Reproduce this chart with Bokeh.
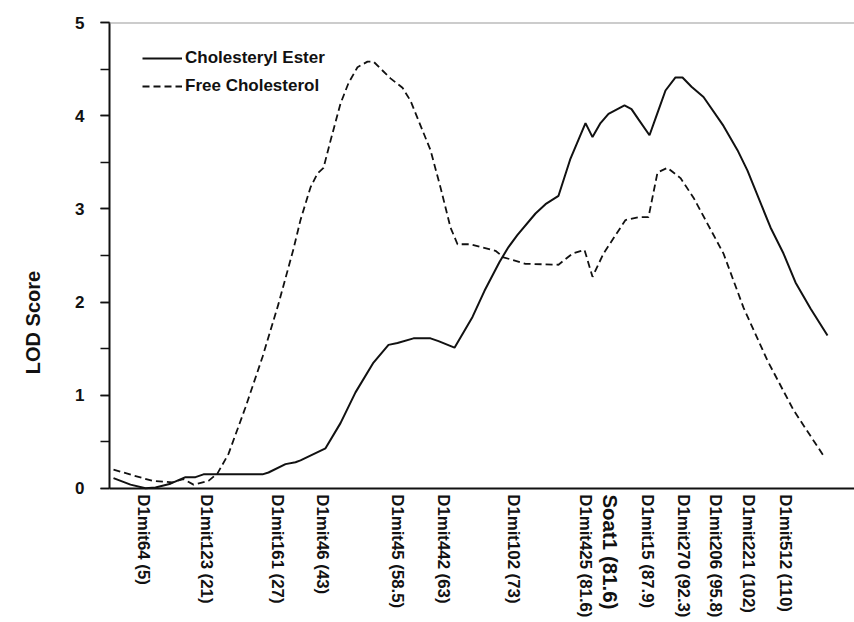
import math
from bokeh.plotting import figure
from bokeh.models import (Range1d, FixedTicker, SingleIntervalTicker, Legend, LegendItem,
                          Label, Span)
from bokeh.embed import file_html
from bokeh.resources import INLINE

# ---- data (x = chart position along chromosome 1 panel) ----
ce_x = [4, 21, 36, 46, 61, 76, 86, 94, 153, 159, 176, 186, 191, 216, 231, 246, 264, 279,
        288, 304, 321, 329, 345, 363, 375, 390, 399, 408, 426, 436, 449, 461, 476, 483,
        491, 499, 515, 522, 529, 540, 548, 556, 566, 573, 582, 594, 614, 628, 638, 661,
        674, 686, 701, 718]
ce_y = [0.11, 0.04, 0.00, 0.01, 0.05, 0.12, 0.12, 0.15, 0.15, 0.17, 0.26, 0.28, 0.30,
        0.43, 0.70, 1.03, 1.35, 1.54, 1.56, 1.61, 1.61, 1.58, 1.51, 1.84, 2.12, 2.43,
        2.59, 2.72, 2.95, 3.05, 3.14, 3.54, 3.92, 3.77, 3.92, 4.02, 4.11, 4.07, 3.96,
        3.79, 4.03, 4.27, 4.41, 4.41, 4.31, 4.20, 3.89, 3.63, 3.41, 2.80, 2.52, 2.21,
        1.93, 1.64]

fc_x = [4, 43, 63, 74, 84, 99, 108, 119, 136, 153, 169, 184, 191, 201, 208, 214, 221,
        231, 239, 248, 258, 264, 281, 293, 301, 321, 331, 341, 348, 361, 371, 386, 394,
        416, 449, 463, 475, 483, 494, 516, 529, 539, 548, 558, 571, 584, 614, 634, 658,
        684, 714]
fc_y = [0.20, 0.08, 0.065, 0.10, 0.04, 0.08, 0.16, 0.37, 0.87, 1.41, 1.98, 2.57, 2.88,
        3.23, 3.38, 3.44, 3.73, 4.13, 4.35, 4.52, 4.58, 4.58, 4.40, 4.30, 4.16, 3.63,
        3.23, 2.80, 2.62, 2.62, 2.59, 2.55, 2.48, 2.41, 2.40, 2.52, 2.56, 2.27, 2.52,
        2.88, 2.91, 2.91, 3.39, 3.44, 3.33, 3.12, 2.52, 1.94, 1.37, 0.84, 0.35]

marker_pos = [34, 97, 168, 213, 288, 334, 404, 476, 501, 538, 574, 606, 639, 676]
marker_labels = ["D1mit64 (5)", "D1mit123 (21)", "D1mit161 (27)", "D1mit46 (43)",
                 "D1mit45 (58.5)", "D1mit442 (63)", "D1mit102 (73)", "D1mit425 (81.6)",
                 "Soat1 (81.6)", "D1mit15 (87.9)", "D1mit270 (92.3)", "D1mit206 (95.8)",
                 "D1mit221 (102)", "D1mit512 (110)"]
highlight = "Soat1 (81.6)"

series_names = ["Cholesteryl Ester", "Free Cholesterol"]

FONT = "Liberation Sans"

# the frame reaches the bottom of the page; the x axis sits at LOD 0 inside it
p = figure(width=854, height=622, output_backend="svg", toolbar_location=None,
           x_range=Range1d(0, 745), y_range=Range1d(-1.44, 5),
           min_border_left=109, min_border_right=0, min_border_top=22,
           min_border_bottom=0)
p.background_fill_color = "white"
p.border_fill_color = "white"
p.outline_line_color = None
p.grid.visible = False

r_ce = p.line(ce_x, ce_y, line_color="#111111", line_width=2)
r_fc = p.line(fc_x, fc_y, line_color="#111111", line_width=1.8, line_dash="7 4")

# top border
p.add_layout(Span(location=5, dimension="width", line_color="#999999", line_width=2))

# y axis
ya = p.yaxis[0]
ya.bounds = (0, 5)
ya.ticker = SingleIntervalTicker(interval=1, num_minor_ticks=2)
ya.axis_line_color = "#111111"
ya.axis_line_width = 2
ya.major_tick_in = 0
ya.major_tick_out = 9
ya.minor_tick_in = 0
ya.minor_tick_out = 9
ya.major_tick_line_width = 1.5
ya.minor_tick_line_width = 1.5
ya.major_tick_line_color = "#111111"
ya.minor_tick_line_color = "#111111"
ya.major_label_text_font = FONT
ya.major_label_text_font_style = "bold"
ya.major_label_text_font_size = "17px"
ya.major_label_text_color = "#111111"
ya.major_label_standoff = 16
ya.axis_label = "LOD Score"
ya.axis_label_text_font = FONT
ya.axis_label_text_font_style = "bold"
ya.axis_label_text_font_size = "20px"
ya.axis_label_text_color = "#111111"
ya.axis_label_standoff = 28

# x axis with marker labels, fixed at LOD = 0
xa = p.xaxis[0]
xa.fixed_location = 0
xa.ticker = FixedTicker(ticks=marker_pos)
xa.major_label_overrides = {pos: ("" if lab == highlight else lab)
                            for pos, lab in zip(marker_pos, marker_labels)}
xa.major_label_orientation = -math.pi / 2
xa.major_label_text_font = FONT
xa.major_label_text_font_style = "bold"
xa.major_label_text_font_size = "16.8px"
xa.major_label_text_color = "#111111"
xa.major_label_standoff = 6
xa.major_tick_in = 0
xa.major_tick_out = 0
xa.minor_tick_in = 0
xa.minor_tick_out = 0
xa.axis_line_color = "#111111"
xa.axis_line_width = 2

hi_idx = marker_labels.index(highlight)
p.add_layout(Label(x=marker_pos[hi_idx], y=-0.065, text=highlight,
                   angle=-math.pi / 2, text_align="left", text_baseline="middle",
                   text_font=FONT, text_font_style="bold", text_font_size="20.5px",
                   text_color="#111111"))

legend = Legend(items=[LegendItem(label=series_names[0], renderers=[r_ce]),
                       LegendItem(label=series_names[1], renderers=[r_fc])],
                location=(33, 526))
legend.margin = 0
legend.padding = 0
legend.border_line_color = None
legend.background_fill_alpha = 0
legend.glyph_width = 40
legend.glyph_height = 20
legend.label_height = 20
legend.spacing = 8
legend.label_standoff = 3
legend.label_text_font = FONT
legend.label_text_font_style = "bold"
legend.label_text_font_size = "17px"
legend.label_text_color = "#111111"
p.add_layout(legend, "center")

open("out.html", "w").write(file_html(p, INLINE))
